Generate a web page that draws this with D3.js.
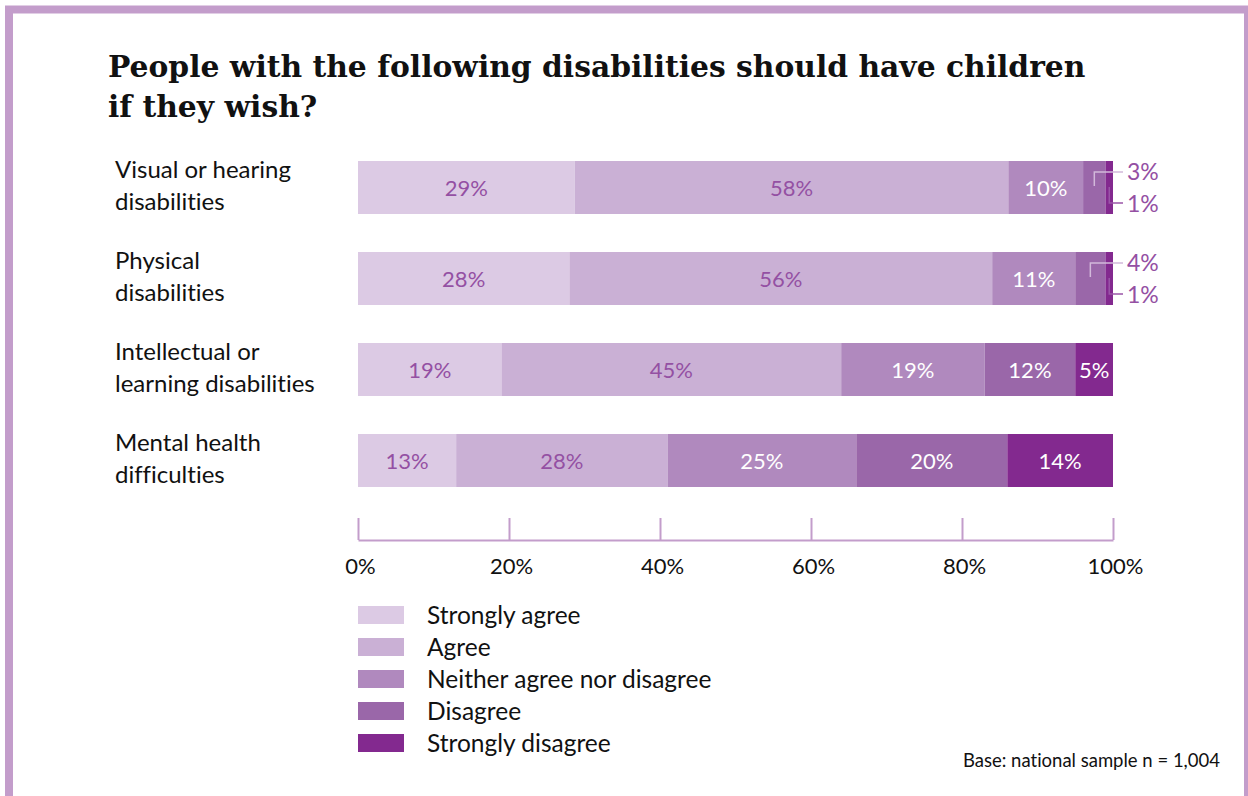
<!DOCTYPE html>
<html>
<head>
<meta charset="utf-8">
<script src="https://cdn.jsdelivr.net/npm/d3@7"></script>
<style>
  html, body { margin: 0; padding: 0; background: #fff; }
  svg { display: block; }
  text { font-variant-ligatures: none; }
</style>
</head>
<body>
<svg id="chart" width="1248" height="796"></svg>
<script>
// Survey responses, percent of respondents per disability group
const categories = [
  ["Visual or hearing", "disabilities"],
  ["Physical", "disabilities"],
  ["Intellectual or", "learning disabilities"],
  ["Mental health", "difficulties"]
];
const responses = ["Strongly agree", "Agree", "Neither agree nor disagree", "Disagree", "Strongly disagree"];
const stronglyAgree = [29, 28, 19, 13];
const agree         = [58, 56, 45, 28];
const neither       = [10, 11, 19, 25];
const disagree      = [3, 4, 12, 20];
const stronglyDis   = [1, 1, 5, 14];
const tickValues = [0, 0.2, 0.4, 0.6, 0.8, 1];
const title = ["People with the following disabilities should have children", "if they wish?"];
const baseNote = "Base: national sample n = 1,004";

const colors = ["#dccae4", "#cab0d5", "#b089be", "#9a67a9", "#83298f"];
const labelInk = ["#9450a3", "#9450a3", "#ffffff", "#ffffff", "#ffffff"];
const frameColor = "#c39dcb";
const bodyFont = "Lato, 'Open Sans', sans-serif";

const svg = d3.select("#chart");

// lilac frame (open at the bottom)
svg.append("rect")
  .attr("x", 9).attr("y", 9.5)
  .attr("width", 1239).attr("height", 900)
  .attr("fill", "none")
  .attr("stroke", frameColor)
  .attr("stroke-width", 8);

// title, sized so the first line spans the title block
const titleG = svg.append("g").attr("font-family", "'DejaVu Serif', serif").attr("font-weight", "bold").attr("fill", "#111");
const t1 = titleG.append("text").attr("x", 108).attr("y", 77).attr("font-size", 30).text(title[0]);
const fitSize = 30 * 978 / t1.node().getComputedTextLength();
t1.attr("font-size", fitSize);
titleG.append("text").attr("x", 108).attr("y", 117).attr("font-size", fitSize).text(title[1]);

// rows -> table for d3.stack
const rows = categories.map((c, i) => ({
  key: i,
  [responses[0]]: stronglyAgree[i],
  [responses[1]]: agree[i],
  [responses[2]]: neither[i],
  [responses[3]]: disagree[i],
  [responses[4]]: stronglyDis[i]
}));

const series = d3.stack().keys(responses).offset(d3.stackOffsetExpand)(rows);

const x = d3.scaleLinear().domain([0, 1]).range([358, 1113]);
const y = d3.scaleBand().domain(d3.range(categories.length))
  .range([161, 487]).paddingInner(38 / 91).paddingOuter(0);

// category labels
const catG = svg.append("g").attr("font-family", bodyFont).attr("font-size", 24).attr("fill", "#111");
categories.forEach((lines, i) => {
  lines.forEach((ln, j) => {
    catG.append("text")
      .attr("x", 115)
      .attr("y", y(i) + 17 + j * 32)
      .text(ln);
  });
});

// stacked bars
const layer = svg.append("g").selectAll("g").data(series).join("g")
  .attr("fill", (d, k) => colors[k]);
layer.selectAll("rect").data(d => d).join("rect")
  .attr("x", d => x(d[0]))
  .attr("y", (d, i) => y(i))
  .attr("width", d => x(d[1]) - x(d[0]))
  .attr("height", y.bandwidth());

// value labels
const valueOf = [stronglyAgree, agree, neither, disagree, stronglyDis];
const lblG = svg.append("g").attr("font-family", bodyFont).attr("font-size", 22);
const calloutX = 1123;
series.forEach((s, k) => {
  s.forEach((d, i) => {
    const x0 = x(d[0]), x1 = x(d[1]);
    const w = x1 - x0;
    const v = valueOf[k][i] + "%";
    const top = y(i), bot = y(i) + y.bandwidth();
    if (w >= 35) {
      lblG.append("text")
        .attr("x", (x0 + x1) / 2)
        .attr("y", top + y.bandwidth() / 2 + 8)
        .attr("text-anchor", "middle")
        .attr("fill", labelInk[k])
        .text(v);
    } else {
      // narrow segment: leader line out to the right of the bar
      const cx = (x0 + x1) / 2;
      const upper = k === 3;
      const ly = upper ? top + 11 : bot - 11;
      const sy = upper ? top + 25 : bot - 27;
      svg.append("path")
        .attr("d", `M${cx},${sy}V${ly}H${calloutX}`)
        .attr("fill", "none")
        .attr("stroke", upper ? "#d2b9da" : "#9a55a8")
        .attr("stroke-width", 1.5);
      lblG.append("text")
        .attr("x", calloutX + 4)
        .attr("y", upper ? top + 19 : bot - 2)
        .attr("font-size", 23)
        .attr("fill", "#9450a3")
        .text(v);
    }
  });
});

// axis with upward ticks and labels below the baseline
const axis = d3.axisBottom(x)
  .tickValues(tickValues)
  .tickFormat(d3.format(".0%"))
  .tickSizeInner(-22)
  .tickSizeOuter(0)
  .tickPadding(18);
const axG = svg.append("g").attr("transform", "translate(0,540)").call(axis);
axG.select(".domain").attr("stroke", frameColor).attr("stroke-width", 2);
axG.selectAll(".tick line").attr("stroke", frameColor).attr("stroke-width", 2);
axG.selectAll(".tick text")
  .attr("font-family", bodyFont).attr("font-size", 22).attr("fill", "#111")
  .attr("dx", 2);

// legend
const legG = svg.append("g").attr("font-family", bodyFont).attr("font-size", 24.5);
responses.forEach((r, k) => {
  legG.append("rect")
    .attr("x", 358).attr("y", 606 + k * 32)
    .attr("width", 46).attr("height", 18)
    .attr("fill", colors[k]);
  legG.append("text")
    .attr("x", 427).attr("y", 624 + k * 32)
    .attr("fill", "#111")
    .text(r);
});

// sample note
svg.append("text")
  .attr("x", 1220).attr("y", 767)
  .attr("text-anchor", "end")
  .attr("font-family", bodyFont).attr("font-size", 18.5).attr("fill", "#111")
  .text(baseNote);
</script>
</body>
</html>
